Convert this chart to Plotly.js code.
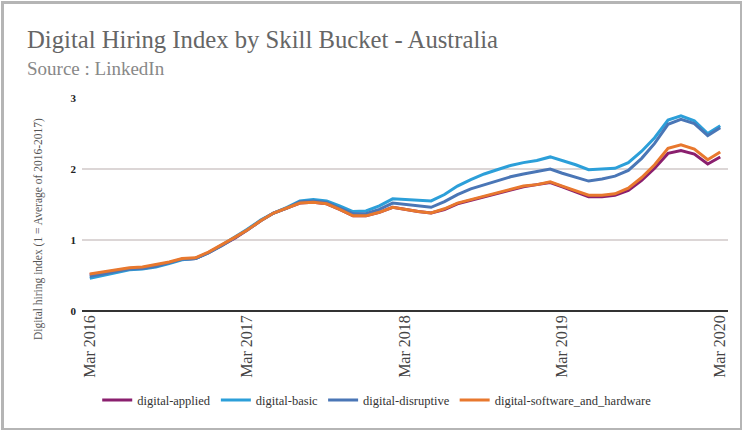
<!DOCTYPE html>
<html>
<head>
<meta charset="utf-8">
<script src="https://cdn.plot.ly/plotly-3.0.1.min.js"></script>
<style>
  html, body { margin: 0; padding: 0; background: #fff; }
  #wrap { position: relative; width: 742px; height: 430px; }
  #chart { width: 742px; height: 430px; }
  #frame { position: absolute; left: 1px; top: 1px; width: 736px; height: 424px;
           border: 3px solid #b5b5b5; pointer-events: none; }
</style>
</head>
<body>
<div id="wrap"><div id="chart"></div><div id="frame"></div></div>
<script>
// Monthly observations, Mar 2016 .. Mar 2020
const startYear = 2016, startMonth = 3, nMonths = 49;
const months = [];
for (let i = 0; i < nMonths; i++) {
  const m = startMonth - 1 + i;
  const y = startYear + Math.floor(m / 12);
  const mm = (m % 12) + 1;
  months.push(y + '-' + String(mm).padStart(2, '0') + '-01');
}

const seriesNames = ['digital-applied', 'digital-basic', 'digital-disruptive', 'digital-software_and_hardware'];

const digitalApplied = [
  0.51, 0.54, 0.57, 0.60, 0.61, 0.64, 0.68, 0.73, 0.74, 0.82,
  0.92, 1.03, 1.14, 1.27, 1.38, 1.45, 1.52, 1.53, 1.51, 1.43,
  1.34, 1.34, 1.39, 1.46, 1.43, 1.40, 1.38, 1.43, 1.51, 1.56,
  1.61, 1.66, 1.71, 1.75, 1.78, 1.81, 1.75, 1.68, 1.61, 1.61,
  1.63, 1.70, 1.84, 2.01, 2.22, 2.26, 2.21, 2.07, 2.17
];
const digitalBasic = [
  0.46, 0.50, 0.54, 0.58, 0.59, 0.62, 0.67, 0.72, 0.74, 0.82,
  0.93, 1.04, 1.15, 1.28, 1.38, 1.46, 1.55, 1.57, 1.55, 1.48,
  1.40, 1.41, 1.48, 1.58, 1.57, 1.56, 1.55, 1.64, 1.76, 1.85,
  1.93, 1.99, 2.05, 2.09, 2.12, 2.17, 2.12, 2.06, 1.99, 2.00,
  2.01, 2.09, 2.25, 2.44, 2.69, 2.75, 2.68, 2.50, 2.61
];
const digitalDisruptive = [
  0.49, 0.52, 0.56, 0.59, 0.60, 0.63, 0.68, 0.73, 0.74, 0.82,
  0.92, 1.03, 1.14, 1.27, 1.38, 1.45, 1.54, 1.55, 1.53, 1.45,
  1.37, 1.37, 1.43, 1.52, 1.50, 1.48, 1.46, 1.54, 1.64, 1.72,
  1.78, 1.83, 1.89, 1.93, 1.96, 2.00, 1.94, 1.88, 1.83, 1.86,
  1.90, 1.98, 2.15, 2.36, 2.63, 2.70, 2.64, 2.47, 2.58
];
const digitalSoftwareHardware = [
  0.52, 0.55, 0.58, 0.61, 0.62, 0.65, 0.69, 0.74, 0.75, 0.83,
  0.93, 1.04, 1.14, 1.27, 1.38, 1.45, 1.52, 1.53, 1.51, 1.43,
  1.34, 1.34, 1.39, 1.46, 1.43, 1.40, 1.38, 1.44, 1.52, 1.57,
  1.62, 1.67, 1.72, 1.76, 1.78, 1.82, 1.76, 1.69, 1.63, 1.63,
  1.65, 1.73, 1.88, 2.06, 2.29, 2.34, 2.28, 2.13, 2.24
];

const seriesValues = [digitalApplied, digitalBasic, digitalDisruptive, digitalSoftwareHardware];
const seriesColors = ['#8a1f6e', '#2c9fd9', '#4a76b6', '#e8782e'];

const serif = '"Liberation Serif", "Times New Roman", serif';

const traces = seriesNames.map((name, k) => ({
  type: 'scatter',
  mode: 'lines',
  name: name,
  x: months,
  y: seriesValues[k],
  line: { color: seriesColors[k], width: 3 },
  hoverinfo: 'skip'
}));

const layout = {
  width: 742, height: 430,
  margin: { l: 82, r: 14, t: 98, b: 119 },
  paper_bgcolor: '#fff', plot_bgcolor: '#fff',
  font: { family: serif, color: '#444' },
  showlegend: true,
  legend: {
    orientation: 'h', x: 0.457, xanchor: 'center', y: -0.42, yanchor: 'middle',
    font: { family: serif, size: 12.5, color: '#333' },
    itemwidth: 30, tracegroupgap: 0
  },
  xaxis: {
    type: 'date',
    range: ['2016-02-12', '2020-03-19'],
    tick0: '2016-03-01', dtick: 'M12', tickformat: '%b %Y',
    tickangle: -90,
    tickfont: { family: serif, size: 16, color: '#444' },
    showgrid: false, zeroline: false, showline: false, ticks: ''
  },
  yaxis: {
    range: [0, 3], dtick: 1, tick0: 0,
    tickfont: { family: serif, size: 11, color: '#222', weight: 'bold' },
    gridcolor: '#dcd6d6', gridwidth: 1.5,
    zeroline: true, zerolinecolor: '#333', zerolinewidth: 1.5,
    showline: false, ticks: '', ticklabelstandoff: 5
  },
  annotations: [
    { xref: 'paper', yref: 'paper', x: -0.088, y: 1.0 + (98 - 39) / 213, xanchor: 'left', yanchor: 'middle',
      text: 'Digital Hiring Index by Skill Bucket - Australia', showarrow: false,
      font: { family: serif, size: 24.7, color: '#666' } },
    { xref: 'paper', yref: 'paper', x: -0.088, y: 1.0 + (98 - 68) / 213, xanchor: 'left', yanchor: 'middle',
      text: 'Source : LinkedIn', showarrow: false,
      font: { family: serif, size: 19, color: '#888' } },
    { xref: 'paper', yref: 'paper', x: (38 - 82) / 646, y: (311 - 229) / 213, xanchor: 'center', yanchor: 'middle',
      text: 'Digital hiring index (1 = Average of 2016-2017)', textangle: -90, showarrow: false,
      font: { family: serif, size: 11.5, color: '#555' } }
  ]
};

Plotly.newPlot('chart', traces, layout, { displayModeBar: false, staticPlot: true });
</script>
</body>
</html>
